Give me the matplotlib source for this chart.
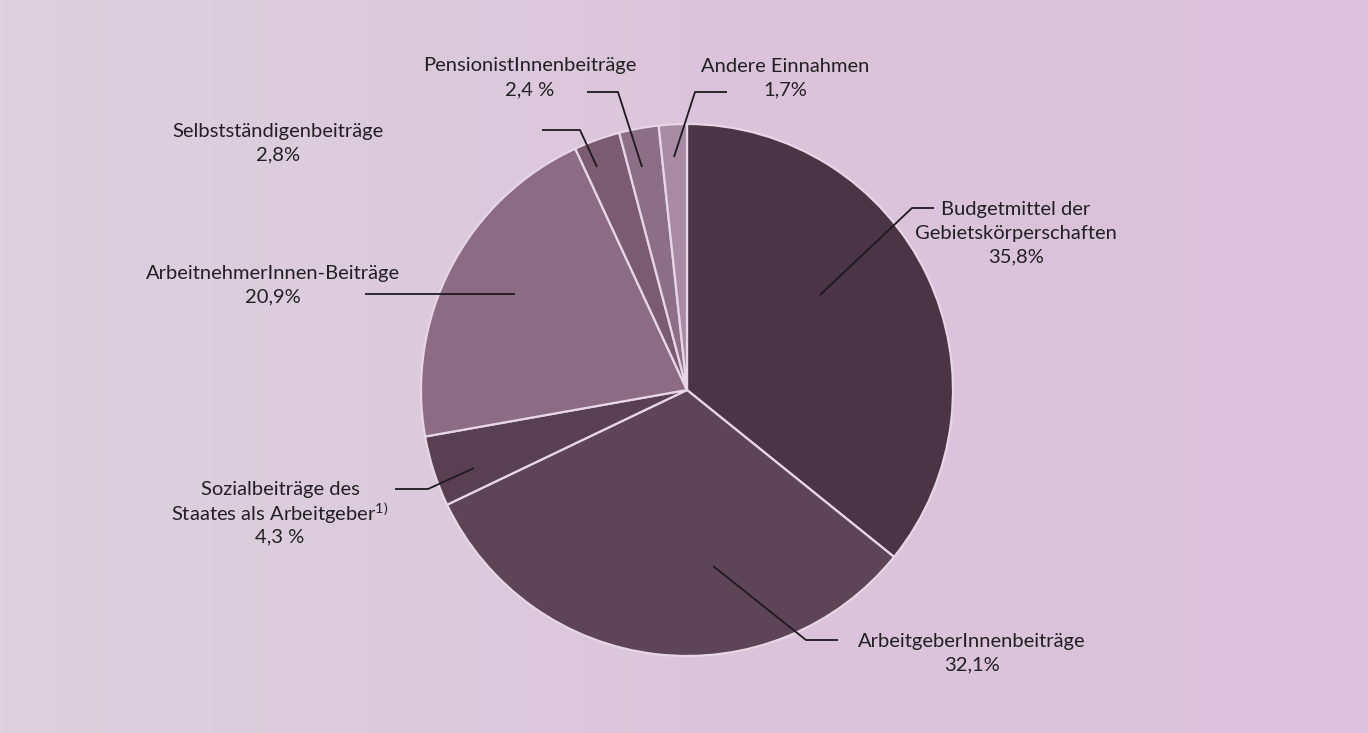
import numpy as np
import matplotlib.pyplot as plt
from matplotlib.colors import LinearSegmentedColormap

plt.rcParams['font.family'] = ['Lato', 'DejaVu Sans']

labels = [["Budgetmittel der", "Gebietskörperschaften"], ["ArbeitgeberInnenbeiträge"],
          ["Sozialbeiträge des", "Staates als Arbeitgeber$^{\\mathregular{1)}}$"],
          ["ArbeitnehmerInnen-Beiträge"],
          ["Selbstständigenbeiträge"], ["PensionistInnenbeiträge"], ["Andere Einnahmen"]]
values = [35.8, 32.1, 4.3, 20.9, 2.8, 2.4, 1.7]
pct_text = ["35,8%", "32,1%", "4,3 %", "20,9%", "2,8%", "2,4 %", "1,7%"]
colors = ["#4a3445", "#5e4457", "#593f52", "#8b6c84", "#7a5b72", "#8c6f87", "#a88ba3"]

# layout in pixel coordinates: leader line points, text centre x and first line y
leaders = [
    [(820, 295), (912, 208), (934, 208)],
    [(713, 566), (806, 640), (838, 640)],
    [(474, 468), (428, 489), (395, 489)],
    [(515, 294), (440, 294), (365, 294)],
    [(597, 167), (580, 130), (542, 130)],
    [(642, 167), (618, 92), (587, 92)],
    [(674, 157), (695, 92), (727, 92)],
]
text_pos = [(1016, 209), (972, 641), (280, 489), (273, 273),
            (278, 131), (530, 66), (785, 66)]
line_h = 24

W, H = 1368, 733
fig = plt.figure(figsize=(W / 100, H / 100), dpi=100)
ax = fig.add_axes([0, 0, 1, 1])

cmap = LinearSegmentedColormap.from_list("bg", ["#ddd2de", "#dcc5dc", "#dbc1db"])
grad = np.linspace(0, 1, 256).reshape(1, -1)
ax.imshow(grad, cmap=cmap, extent=(0, W, H, 0), aspect="auto", zorder=0)

ax.pie(values, colors=colors, startangle=-90, counterclock=True,
       center=(687, 390), radius=266,
       wedgeprops=dict(edgecolor="#e6d6e6", linewidth=1.6, zorder=2))

for (lab, pct, pts, tp) in zip(labels, pct_text, leaders, text_pos):
    xs = [p[0] for p in pts]
    ys = [p[1] for p in pts]
    ax.plot(xs, ys, color="#1e1a1e", lw=1.3, zorder=3, solid_capstyle="butt")
    tx, ty = tp
    for i, line in enumerate(lab + [pct]):
        ax.text(tx, ty + i * line_h, line, ha="center", va="center",
                fontsize=14.5, color="#222022", zorder=4)

ax.set_xlim(0, W)
ax.set_ylim(H, 0)
ax.set_aspect("auto")
ax.axis("off")
fig.savefig("out.png", dpi=100)
